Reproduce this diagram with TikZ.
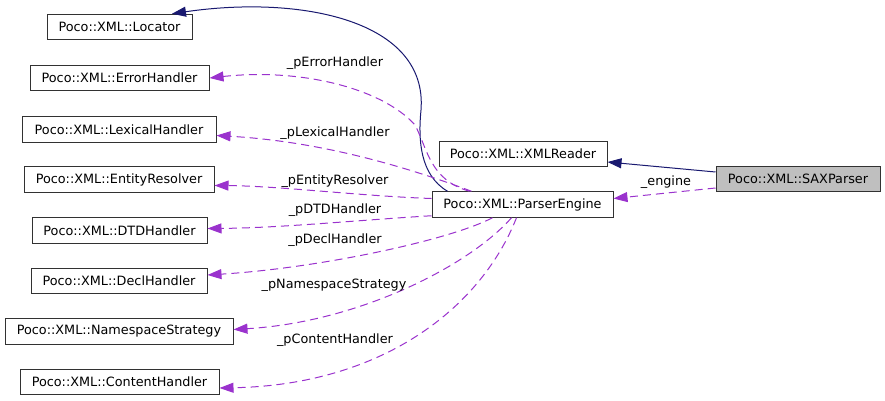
\documentclass[tikz,border=0pt]{standalone}
\usepackage{fontspec}
\setmainfont{DejaVu Sans}
\usepackage{tikz}
\usetikzlibrary{positioning, arrows.meta, calc}
\definecolor{inheritBlue}{RGB}{25,25,112}
\definecolor{memberPurple}{RGB}{154,50,205}
\definecolor{boxLine}{RGB}{50,50,50}
\definecolor{currentFill}{RGB}{191,191,191}

\begin{document}
\begin{tikzpicture}[
    x=1pt, y=-1pt,
    every node/.style={font=\fontsize{12.8}{15}\selectfont},
    cls/.style={draw=boxLine, line width=1pt, minimum height=25.5, inner sep=0pt},
    inh/.style={draw=inheritBlue, line width=1pt, -{Triangle[length=14pt, width=10pt]}},
    use/.style={draw=memberPurple, line width=1pt, dash pattern=on 8pt off 5pt,
                -{Triangle[length=14pt, width=10pt]}},
    lbl/.style={inner sep=1pt},
]
% Canvas: x in [0, 885], y in [0, 401], y grows downward (pixels)
\useasboundingbox (0,0) rectangle (885,401);

% --- Left column: referenced classes ---
\node[cls, minimum width=145] (loc)  at (119.5, 27)  {Poco::XML::Locator};
\node[cls, minimum width=179] (err)  at (119.5, 78)  {Poco::XML::ErrorHandler};
\node[cls, minimum width=194] (lex)  at (119, 129.5) {Poco::XML::LexicalHandler};
\node[cls, minimum width=190] (ent)  at (119, 179.5) {Poco::XML::EntityResolver};
\node[cls, minimum width=175] (dtd)  at (119.5, 230.5) {Poco::XML::DTDHandler};
\node[cls, minimum width=176] (decl) at (119, 281)   {Poco::XML::DeclHandler};
\node[cls, minimum width=228] (ns)   at (119, 331.5) {Poco::XML::NamespaceStrategy};
\node[cls, minimum width=199] (cont) at (119.5, 382) {Poco::XML::ContentHandler};

% --- Middle and right ---
\node[cls, minimum width=168] (xmlr) at (523, 154)   {Poco::XML::XMLReader};
\node[cls, minimum width=181] (pe)   at (522.5, 204.5) {Poco::XML::ParserEngine};
\node[cls, minimum width=164, fill=currentFill] (sax) at (798, 179) {Poco::XML::SAXParser};

% --- SAXParser relations ---
\draw[inh] ($(sax.west)+(0,-7)$) -- ($(xmlr.east)+(0,8)$);
\draw[use] ($(sax.west)+(0,9)$) -- ($(pe.east)+(0,-6)$);
\node[lbl] (lEng) at (666, 182) {\_engine};

% --- ParserEngine base class (long arc over the top) ---
\draw[inh] ($(pe.north west)+(16,0)$)
    .. controls (420,175) and (418,140) .. (421,110)
    .. controls (428,20) and (300,-5) .. (loc.north east -| 172,0);

% --- ParserEngine members ---
\draw[use] ($(pe.north west)+(38,0)$)
    .. controls (430,180) and (428,150) .. (415,125)
    .. controls (382,88) and (300,68) .. (err.east);
\draw[use] ($(pe.north west)+(40,0)$)
    .. controls (420,172) and (330,142) .. ($(lex.east)+(0,6)$);
\draw[use] ($(pe.west)+(0,-6)$)
    .. controls (360,196) and (280,186) .. ($(ent.east)+(0,6)$);
\draw[use] ($(pe.south west)+(0,-2)$)
    .. controls (360,220) and (280,228) .. ($(dtd.east)+(0,-2)$);
\draw[use] ($(pe.south west)+(61,0)$)
    .. controls (450,240) and (320,268) .. ($(decl.east)+(0,-6)$);
\draw[use] ($(pe.south west)+(80,0)$)
    .. controls (470,265) and (360,322) .. ($(ns.east)+(0,-2)$);
\draw[use] ($(pe.south west)+(85,0)$)
    .. controls (480,310) and (380,385) .. ($(cont.east)+(0,6)$);

% --- Member labels ---
\node[lbl] (lErr)  at (335, 63)  {\_pErrorHandler};
\node[lbl] (lLex)  at (335, 133) {\_pLexicalHandler};
\node[lbl] (lEnt)  at (335, 181) {\_pEntityResolver};
\node[lbl] (lDtd)  at (335, 210) {\_pDTDHandler};
\node[lbl] (lDecl) at (335, 240) {\_pDeclHandler};
\node[lbl] (lNs)   at (334, 285) {\_pNamespaceStrategy};
\node[lbl] (lCont) at (335, 340) {\_pContentHandler};

\end{tikzpicture}
\end{document}
